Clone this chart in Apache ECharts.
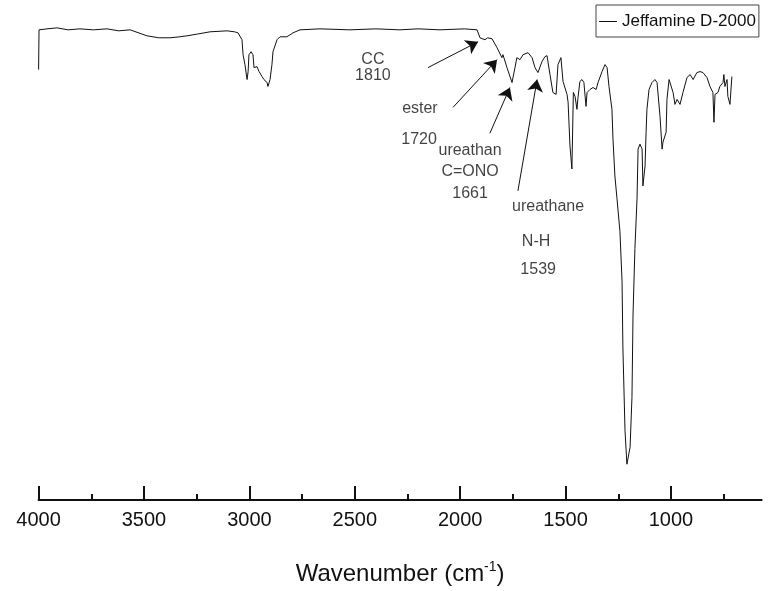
<!DOCTYPE html>
<html><head><meta charset="utf-8">
<script src="https://cdn.jsdelivr.net/npm/echarts@6/dist/echarts.min.js"></script>
<style>html,body{margin:0;padding:0;background:#fff}#c{width:768px;height:591px}</style>
</head><body><div id="c"></div>
<script>
// Spectrum (wavenumber in cm-1, transmittance in arbitrary %)
const wavenumbers = [4000,3998,3960,3913,3860,3804,3740,3675,3620,3566,3486,3430,3377,3330,3296,3240,3187,3106,3070,3054,
  3035,3030,3021,3011,3006,3002,2992,2983,2978,2964,2954,2940,2931,2916,2912,2902,2893,2888,2869,2855,2822,2793,2760,2665,
  2523,2400,2286,2200,2096,1980,1920,1906,1882,1870,1849,1825,1802,1797,1778,1754,1740,1731,1716,1702,1678,1659,1645,1631,
  1612,1598,1588,1574,1560,1545,1536,1522,1512,1493,1488,1479,1470,1468,1463,1455,1446,1441,1432,1422,1413,1403,1398,1384,
  1370,1355,1346,1327,1313,1303,1294,1280,1275,1266,1256,1242,1232,1228,1218,1209,1204,1194,1185,1180,1171,1161,1156,1147,
  1137,1133,1123,1118,1114,1104,1090,1076,1066,1052,1042,1038,1023,1019,1009,1000,990,981,971,957,943,924,909,895,877,862,
  848,829,815,801,796,791,777,768,753,749,744,734,730,720,711];
const transmittance = [86.6,94.6,94.8,95.0,94.6,94.8,94.6,94.8,94.4,94.6,93.4,93.0,93.0,93.2,93.4,93.8,94.2,94.4,94.2,94.0,
  92.6,89.6,87.6,84.6,86.2,89.6,90.2,89.6,87.0,87.2,86.2,85.2,84.6,84.0,83.2,84.6,87.6,90.2,92.6,93.2,93.2,94.0,94.6,94.8,
  94.6,94.8,94.6,94.8,94.6,94.8,94.6,93.0,92.6,93.0,92.8,91.0,89.0,89.6,87.0,84.0,87.0,89.0,88.6,89.6,90.0,89.0,87.0,86.0,
  88.2,89.2,89.4,85.6,82.0,81.6,87.6,89.0,84.2,81.6,80.0,71.2,66.6,66.6,82.0,81.2,78.6,81.0,84.2,84.6,84.0,79.2,82.0,82.6,
  83.0,82.6,84.0,86.2,87.6,87.0,83.2,78.6,72.6,65.2,60.6,54.0,44.0,30.6,14.0,7.2,7.2,10.6,20.6,37.2,50.6,60.6,70.6,71.6,
  70.6,63.2,67.2,74.0,78.6,82.6,84.0,84.6,84.0,77.2,70.6,72.0,74.0,80.6,84.6,85.0,82.0,79.6,80.6,79.6,82.0,85.0,85.6,84.6,86.0,86.2,
  86.0,85.0,83.2,82.0,76.0,81.6,82.0,83.2,84.0,85.6,83.2,84.6,81.2,79.6,85.2];
const seriesName = 'Jeffamine D-2000';

// Axis ticks
const majorTicks = [4000,3500,3000,2500,2000,1500,1000];
const minorTicks = [3750,3250,2750,2250,1750,1250,750];

// Annotation texts and their anchor (data coordinates)
const noteTexts = ['CC\n1810','ester','1720','ureathan\nC=ONO\n1661','ureathane','N-H','1539'];
const noteX = [2414,2191,2195,1953,1583,1640,1630];
const noteY = [87.0,78.8,72.6,66.0,59.0,52.0,46.4];
const noteLineHeight = [16,18,18,21.5,18,18,18];

// Arrows (from -> to, data coordinates)
const arrowFromX = [2153,2034,1859,1726];
const arrowFromY = [87.0,79.0,73.8,62.2];
const arrowToX = [1915,1825,1764,1635];
const arrowToY = [92.2,88.6,83.0,84.6];

const FONT = '"Liberation Sans", Arial, sans-serif';
const INK = '#111';
const chart = echarts.init(document.getElementById('c'));
chart.setOption({
  animation: false,
  backgroundColor: '#fff',
  legend: {
    data: [seriesName],
    left: 596, top: 5,
    borderColor: '#444', borderWidth: 1,
    padding: [8, 3, 7, 3],
    itemWidth: 18, itemHeight: 1,
    icon: 'rect',
    itemGap: 6,
    textStyle: {fontFamily: FONT, fontSize: 17, color: INK}
  },
  grid: {left: 38.6, right: 6.4, top: 3, bottom: 80},
  xAxis: [{
    type: 'value', inverse: true, min: 570, max: 4000,
    axisLine: {show: true, lineStyle: {color: INK, width: 2}},
    axisTick: {show: true, inside: true, length: 14, customValues: majorTicks, lineStyle: {color: INK, width: 2}},
    axisLabel: {show: true, customValues: majorTicks, margin: 10, fontFamily: FONT, fontSize: 20, color: INK,
      formatter: v => String(v)},
    splitLine: {show: false},
    name: '{a|Wavenumber (cm}{s|-1}{a|)}',
    nameLocation: 'middle', nameGap: 60,
    nameTextStyle: {rich: {
      a: {fontFamily: FONT, fontSize: 24, color: INK},
      s: {fontFamily: FONT, fontSize: 14, color: INK, verticalAlign: 'top', padding: [0,0,14,0]}
    }}
  }, {
    type: 'value', inverse: true, min: 570, max: 4000, position: 'bottom', gridIndex: 0,
    axisLine: {show: false},
    axisTick: {show: true, inside: true, length: 6, customValues: minorTicks, lineStyle: {color: INK, width: 2}},
    axisLabel: {show: false},
    splitLine: {show: false}
  }],
  yAxis: {type: 'value', min: 0, max: 100, show: false},
  series: [{
    name: seriesName,
    type: 'line',
    symbol: 'none',
    lineStyle: {color: INK, width: 1},
    itemStyle: {color: INK},
    data: wavenumbers.map((w, i) => [w, transmittance[i]])
  }, {
    name: 'notes',
    type: 'scatter',
    symbolSize: 0,
    silent: true,
    data: noteTexts.map((t, i) => ({name: t, value: [noteX[i], noteY[i]],
      label: {lineHeight: noteLineHeight[i]}})),
    label: {show: true, position: 'inside', formatter: '{b}', fontFamily: FONT, fontSize: 16, color: INK, align: 'center'}
  }, {
    name: 'arrows',
    type: 'lines',
    coordinateSystem: 'cartesian2d',
    silent: true,
    symbol: ['none', 'arrow'],
    symbolSize: 12,
    lineStyle: {color: INK, width: 1, opacity: 1},
    data: arrowFromX.map((x, i) => ({coords: [[x, arrowFromY[i]], [arrowToX[i], arrowToY[i]]]}))
  }]
});
</script></body></html>
